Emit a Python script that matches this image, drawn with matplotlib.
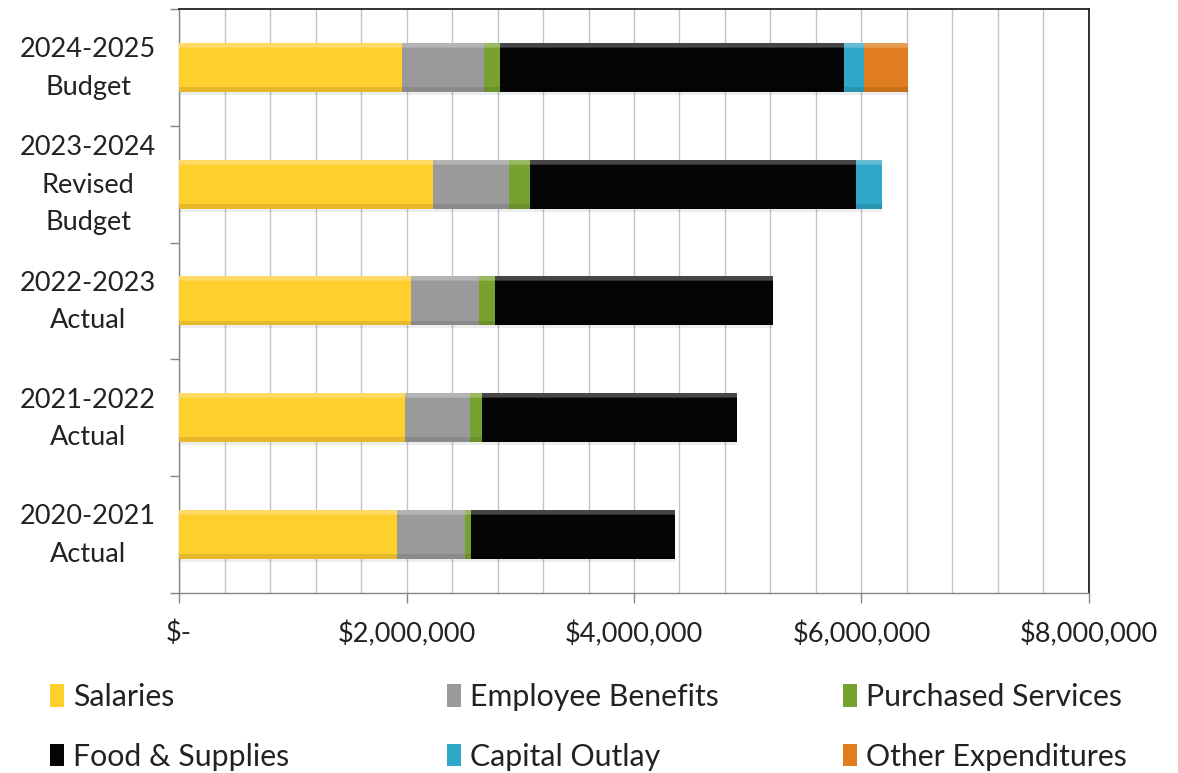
import matplotlib.pyplot as plt
import numpy as np
from matplotlib.ticker import MultipleLocator, FuncFormatter
from matplotlib.transforms import ScaledTranslation

plt.rcParams['font.family'] = ['Lato', 'DejaVu Sans']

# budget years, top to bottom
categories = ['2024-2025\nBudget', '2023-2024\nRevised\nBudget', '2022-2023\nActual',
              '2021-2022\nActual', '2020-2021\nActual']

# expenditures by object, in dollars
salaries = [1960000, 2230000, 2040000, 1990000, 1920000]
benefits = [720000, 670000, 600000, 570000, 590000]
purchased = [140000, 190000, 140000, 100000, 60000]
food_supplies = [3030000, 2860000, 2440000, 2250000, 1790000]
capital_outlay = [170000, 230000, 0, 0, 0]
other_exp = [390000, 0, 0, 0, 0]

series_names = ['Salaries', 'Employee Benefits', 'Purchased Services',
                'Food & Supplies', 'Capital Outlay', 'Other Expenditures']
series_vals = [salaries, benefits, purchased, food_supplies, capital_outlay, other_exp]
series_colors = ['#FFCF2E', '#9A9A9A', '#78A22F', '#050505', '#2FA7C8', '#E07D1E']

fig = plt.figure(figsize=(11.78, 7.73), dpi=100)
ax = fig.add_axes([0.152, 0.2329, 0.7724, 0.7555])

y = np.arange(len(categories))
bar_h = 0.42
left = np.zeros(len(categories))
handles = []
for name, vals, color in zip(series_names, series_vals, series_colors):
    vals = np.array(vals, dtype=float)
    # soft shadow under each segment
    ax.barh(y + 0.025, vals, left=left, height=bar_h, color='#000000', alpha=0.07, zorder=2)
    b = ax.barh(y, vals, left=left, height=bar_h, color=color, label=name, zorder=3)
    handles.append(b)
    # bevel: light bands on top, darker band at the bottom
    ax.barh(y - bar_h / 2 + bar_h * 0.05, vals, left=left, height=bar_h * 0.10,
            color='white', alpha=0.16, zorder=4)
    ax.barh(y - bar_h / 2 + bar_h * 0.04, vals, left=left, height=bar_h * 0.08,
            color='white', alpha=0.12, zorder=4)
    ax.barh(y + bar_h / 2 - bar_h * 0.05, vals, left=left, height=bar_h * 0.10,
            color='black', alpha=0.10, zorder=4)
    left += vals

ax.set_xlim(0, 8000000)
ax.set_ylim(-0.5, len(categories) - 0.5)
ax.invert_yaxis()

ax.xaxis.set_major_locator(MultipleLocator(2000000))
ax.xaxis.set_minor_locator(MultipleLocator(400000))
ax.xaxis.set_major_formatter(FuncFormatter(lambda v, p: '$-' if v == 0 else '${:,.0f}'.format(v)))
ax.grid(axis='x', which='both', color='#C4C4C4', lw=1, zorder=0)
ax.set_axisbelow(True)

# category labels centred left of the axis, tick marks between categories
ax.set_yticks(y)
ax.set_yticklabels([''] * len(categories))
ax.set_yticks(np.arange(len(categories) + 1) - 0.5, minor=True)
nudge = ScaledTranslation(0, -1 / 100, fig.dpi_scale_trans)
for yi, cat in zip(y, categories):
    ax.text(-0.1, yi, cat, transform=ax.get_yaxis_transform() + nudge,
            ha='center', va='center', fontsize=19.5, color='#222222', linespacing=1.62)

ax.tick_params(axis='y', which='major', length=0)
ax.tick_params(axis='y', which='minor', length=6.5, color='#868686', width=1)
ax.tick_params(axis='x', which='major', length=7, color='#868686', width=1, pad=13,
               labelsize=19.5, labelcolor='#222222')
ax.tick_params(axis='x', which='minor', length=0)

for s in ['top', 'right']:
    ax.spines[s].set_color('#222222')
    ax.spines[s].set_linewidth(1.3)
for s in ['left', 'bottom']:
    ax.spines[s].set_color('#868686')
    ax.spines[s].set_linewidth(1)

# legend laid out as three columns of two rows
col_x = [50 / 1178, 447 / 1178, 843 / 1178]
for i, x0 in enumerate(col_x):
    fig.legend(handles=[handles[i], handles[i + 3]], loc='center left',
               bbox_to_anchor=(x0, 1 - 727 / 773), frameon=False, fontsize=21.8,
               borderpad=0, borderaxespad=0, handlelength=0.45, handleheight=0.75,
               handletextpad=0.3, labelspacing=1.05, labelcolor='#222222')

fig.savefig('out.png', dpi=100)
